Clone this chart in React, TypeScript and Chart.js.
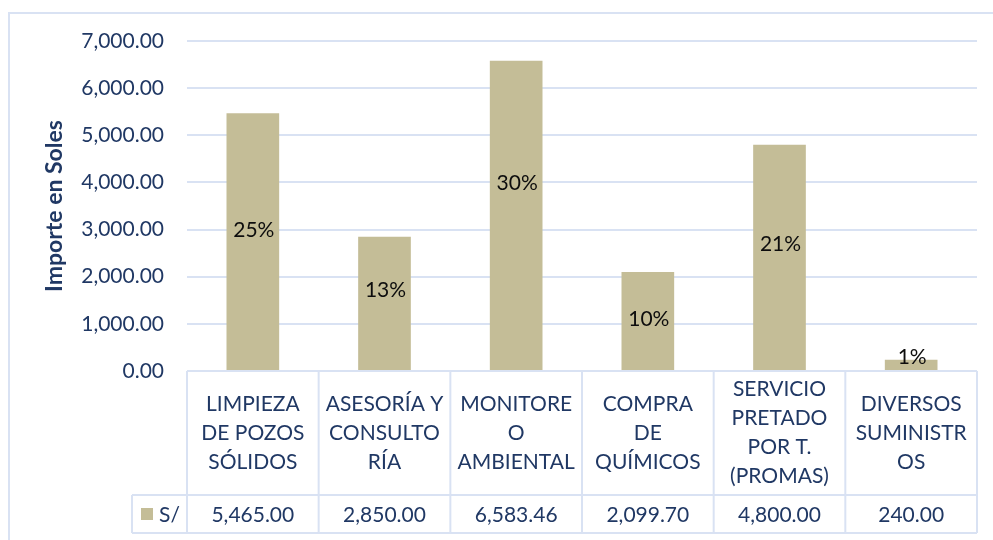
import React, { useEffect, useRef } from "react";
import { Chart, registerables } from "chart.js";

Chart.register(...registerables);

const categories: string[][] = [
  ["LIMPIEZA", "DE POZOS", "SÓLIDOS"],
  ["ASESORÍA Y", "CONSULTO", "RÍA"],
  ["MONITORE", "O", "AMBIENTAL"],
  ["COMPRA", "DE", "QUÍMICOS"],
  ["SERVICIO", "PRETADO", "POR T.", "(PROMAS)"],
  ["DIVERSOS", "SUMINISTR", "OS"],
];
const values: number[] = [5465.0, 2850.0, 6583.46, 2099.7, 4800.0, 240.0];
const valueLabels: string[] = ["5,465.00", "2,850.00", "6,583.46", "2,099.70", "4,800.00", "240.00"];
const percentLabels: string[] = ["25%", "13%", "30%", "10%", "21%", "1%"];
// where each percentage label sits, in data units
const labelAt: number[] = [2990, 1720, 3990, 1100, 2680, 300];
const seriesName = "S/";
const yTicks: number[] = [0, 1000, 2000, 3000, 4000, 5000, 6000, 7000];
const yAxisTitle = "Importe en Soles";

const FONT = "Lato, 'Open Sans', sans-serif";
const TEXT = "#203864";
const GRID = "#D9E2F3";
const BAR = "#C4BD97";
const PAD_LEFT = 41;

const tablePlugin = {
  id: "dataTable",
  afterDatasetsDraw(chart: any) {
    const { ctx } = chart;
    const x = chart.scales.x;
    const y = chart.scales.y;
    ctx.save();
    ctx.fillStyle = "#0D0D0D";
    ctx.font = `21px ${FONT}`;
    ctx.textAlign = "center";
    ctx.textBaseline = "middle";
    percentLabels.forEach((p, i) => {
      ctx.fillText(p, x.getPixelForValue(i) + 1, y.getPixelForValue(labelAt[i]));
    });
    ctx.restore();
  },
  afterDraw(chart: any) {
    const { ctx, chartArea } = chart;
    const x = chart.scales.x;
    const n = categories.length;
    const half = (x.getPixelForValue(1) - x.getPixelForValue(0)) / 2;
    const top = chartArea.bottom;
    const rowSplit = top + 124;
    const bottom = rowSplit + 38;
    const legendLeft = chartArea.left - 55;
    ctx.save();
    ctx.strokeStyle = GRID;
    ctx.lineWidth = 2;
    const line = (x1: number, y1: number, x2: number, y2: number) => {
      ctx.beginPath();
      ctx.moveTo(x1, y1);
      ctx.lineTo(x2, y2);
      ctx.stroke();
    };
    line(chartArea.left, top, chartArea.right, top);
    line(legendLeft, rowSplit, chartArea.right, rowSplit);
    line(legendLeft, bottom, chartArea.right, bottom);
    line(legendLeft, rowSplit, legendLeft, bottom);
    for (let i = 0; i <= n; i++) {
      const bx = x.getPixelForValue(0) - half + i * 2 * half;
      line(bx, top, bx, bottom);
    }
    ctx.fillStyle = TEXT;
    ctx.font = `21px ${FONT}`;
    ctx.textAlign = "center";
    ctx.textBaseline = "middle";
    const lh = 29;
    const mid = (top + rowSplit) / 2;
    categories.forEach((lines, i) => {
      const cx = x.getPixelForValue(i);
      const y0 = mid - ((lines.length - 1) * lh) / 2;
      lines.forEach((t, j) => ctx.fillText(t, cx, y0 + j * lh));
      ctx.fillText(valueLabels[i], cx, (rowSplit + bottom) / 2 + 1);
    });
    // legend key
    const vm = (rowSplit + bottom) / 2;
    ctx.fillStyle = BAR;
    ctx.fillRect(legendLeft + 9, vm - 6, 12, 12);
    ctx.fillStyle = TEXT;
    ctx.textAlign = "left";
    ctx.fillText(seriesName, legendLeft + 27, vm + 1);
    ctx.restore();
  },
};

export default function App() {
  const ref = useRef<HTMLCanvasElement>(null);
  useEffect(() => {
    if (!ref.current) return;
    const chart = new Chart(ref.current, {
      type: "bar",
      data: {
        labels: categories.map((c) => c.join(" ")),
        datasets: [
          {
            label: seriesName,
            data: values,
            backgroundColor: BAR,
            barPercentage: 0.4,
            categoryPercentage: 1,
          },
        ],
      },
      options: {
        responsive: false,
        animation: false,
        devicePixelRatio: 1,
        layout: { padding: { left: PAD_LEFT, top: 41, right: 16, bottom: 169 } },
        plugins: { legend: { display: false }, tooltip: { enabled: false } },
        scales: {
          x: { display: false },
          y: {
            min: 0,
            max: 7000,
            afterBuildTicks: (s: any) => {
              s.ticks = yTicks.map((v) => ({ value: v }));
            },
            afterFit: (s: any) => {
              s.width = 187 - PAD_LEFT;
            },
            border: { display: false },
            grid: { color: GRID, lineWidth: 2, drawTicks: false },
            ticks: {
              padding: 23,
              color: TEXT,
              font: { family: FONT, size: 21 },
              callback: (v: any) =>
                Number(v).toLocaleString("en-US", { minimumFractionDigits: 2, maximumFractionDigits: 2 }),
            },
            title: {
              display: true,
              text: yAxisTitle,
              color: TEXT,
              padding: { top: 0, bottom: 0 },
              font: { family: FONT, size: 23, weight: "bold" },
            },
          },
        },
      },
      plugins: [tablePlugin],
    });
    return () => chart.destroy();
  }, []);
  return (
    <div style={{ position: "absolute", left: 0, top: 0, width: 993, height: 540, background: "#fff", overflow: "hidden" }}>
      <div
        style={{
          position: "absolute",
          left: 8,
          top: 12,
          width: 1000,
          height: 600,
          border: `2px solid ${GRID}`,
          boxSizing: "border-box",
        }}
      />
      <canvas ref={ref} width={993} height={540} style={{ position: "absolute", left: 0, top: 0 }} />
    </div>
  );
}
